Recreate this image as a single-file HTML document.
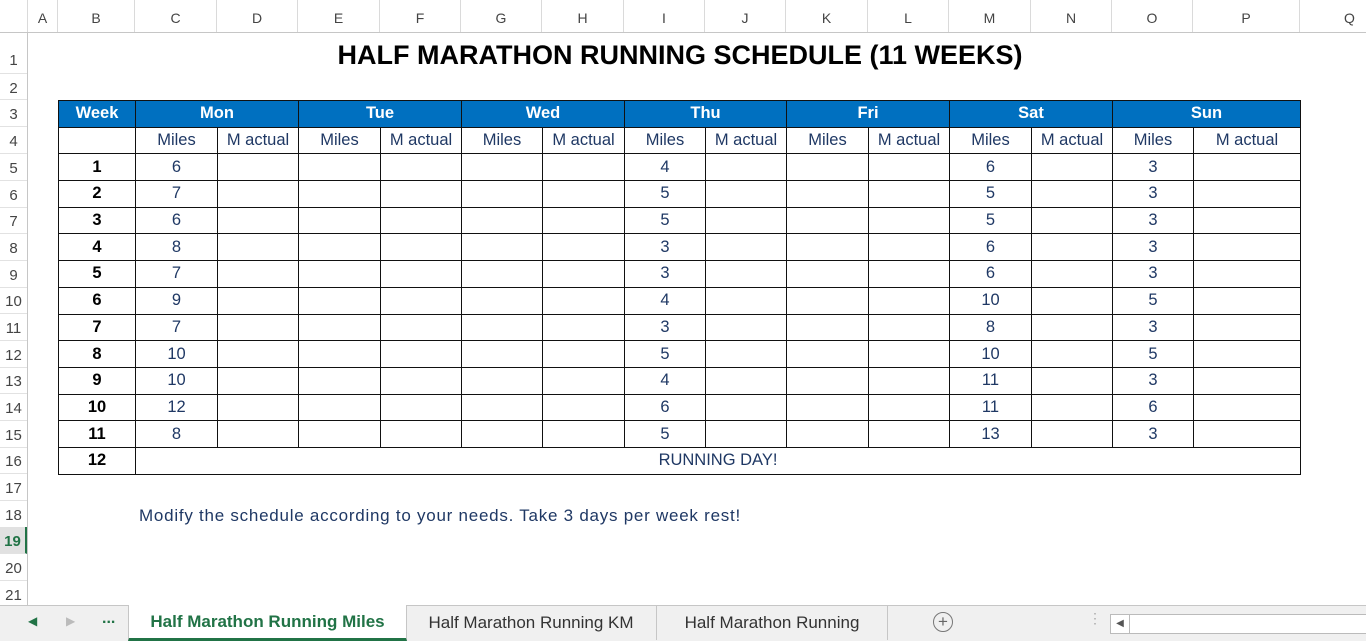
<!DOCTYPE html>
<html><head><meta charset="utf-8"><style>
body{margin:0;width:1366px;height:640px;overflow:hidden;background:#fff;font-family:"Liberation Sans",sans-serif;position:relative}
.ch{position:absolute;top:0;height:32px;border-bottom:1px solid #c6c6c6;background:#fff;width:1366px}
.ch div{position:absolute;top:0;height:32px;line-height:36px;text-align:center;font-size:14px;color:#444;border-right:1px solid #dadada;box-sizing:border-box}
.rh{position:absolute;left:0;width:27px;border-right:1px solid #c6c6c6;top:33px;height:572px}
.rh div{position:absolute;left:0;width:27px;font-size:15px;color:#444;text-align:center;border-bottom:1px solid #e2e2e2;box-sizing:border-box}
table{position:absolute;left:58px;top:100px;border-collapse:collapse;table-layout:fixed}
td{border:1.5px solid #111;height:25.7px;padding:0;text-align:center;font-size:16.5px;color:#1f3864;font-family:"Liberation Sans",sans-serif;overflow:hidden;white-space:nowrap}
tr.h td{background:#0070c0;color:#fff;font-weight:bold;border-color:#111}
td.w{font-weight:bold;color:#000}
.tabs{position:absolute;left:0;top:605px;width:1366px;height:35px;background:#f0f0f0;border-top:1px solid #c6c6c6}
</style></head><body>
<div class="ch">
<div style="left:0;width:28px"></div>
<div style="left:28px;width:30px">A</div>
<div style="left:58px;width:77px">B</div>
<div style="left:135px;width:82px">C</div>
<div style="left:217px;width:81px">D</div>
<div style="left:298px;width:82px">E</div>
<div style="left:380px;width:81px">F</div>
<div style="left:461px;width:81px">G</div>
<div style="left:542px;width:82px">H</div>
<div style="left:624px;width:81px">I</div>
<div style="left:705px;width:81px">J</div>
<div style="left:786px;width:82px">K</div>
<div style="left:868px;width:81px">L</div>
<div style="left:949px;width:82px">M</div>
<div style="left:1031px;width:81px">N</div>
<div style="left:1112px;width:81px">O</div>
<div style="left:1193px;width:107px">P</div>
<div style="left:1300px;width:100px">Q</div>
</div>
<div class="rh">
<div style="top:0;height:41px;line-height:56px">1</div>
<div style="top:41px;height:26px;line-height:30px">2</div>
<div style="top:67px;height:27px;line-height:30px">3</div>
<div style="top:94px;height:27px;line-height:30px">4</div>
<div style="top:121px;height:27px;line-height:30px">5</div>
<div style="top:148px;height:27px;line-height:30px">6</div>
<div style="top:174px;height:27px;line-height:30px">7</div>
<div style="top:201px;height:27px;line-height:30px">8</div>
<div style="top:228px;height:27px;line-height:30px">9</div>
<div style="top:254px;height:27px;line-height:30px">10</div>
<div style="top:281px;height:27px;line-height:30px">11</div>
<div style="top:308px;height:27px;line-height:30px">12</div>
<div style="top:334px;height:27px;line-height:30px">13</div>
<div style="top:361px;height:27px;line-height:30px">14</div>
<div style="top:388px;height:27px;line-height:30px">15</div>
<div style="top:414px;height:27px;line-height:30px">16</div>
<div style="top:441px;height:27px;line-height:30px">17</div>
<div style="top:468px;height:27px;line-height:30px">18</div>
<div style="top:494px;height:27px;line-height:30px;background:#e1e1e1;color:#217346;font-weight:bold;border-right:2px solid #217346">19</div>
<div style="top:521px;height:27px;line-height:30px">20</div>
<div style="top:548px;height:27px;line-height:30px">21</div>
</div>
<div style="position:absolute;left:200px;width:960px;top:40px;text-align:center;font-size:27px;font-weight:bold;color:#000">HALF MARATHON RUNNING SCHEDULE (11 WEEKS)</div>
<table>
<colgroup><col style="width:77px"><col style="width:82px"><col style="width:81px"><col style="width:82px"><col style="width:81px"><col style="width:81px"><col style="width:82px"><col style="width:81px"><col style="width:81px"><col style="width:82px"><col style="width:81px"><col style="width:82px"><col style="width:81px"><col style="width:81px"><col style="width:107px"></colgroup>
<tr class="h"><td>Week</td><td colspan="2">Mon</td><td colspan="2">Tue</td><td colspan="2">Wed</td><td colspan="2">Thu</td><td colspan="2">Fri</td><td colspan="2">Sat</td><td colspan="2">Sun</td></tr>
<tr><td></td><td>Miles</td><td>M actual</td><td>Miles</td><td>M actual</td><td>Miles</td><td>M actual</td><td>Miles</td><td>M actual</td><td>Miles</td><td>M actual</td><td>Miles</td><td>M actual</td><td>Miles</td><td>M actual</td></tr>
<tr><td class="w">1</td><td>6</td><td></td><td></td><td></td><td></td><td></td><td>4</td><td></td><td></td><td></td><td>6</td><td></td><td>3</td><td></td></tr>
<tr><td class="w">2</td><td>7</td><td></td><td></td><td></td><td></td><td></td><td>5</td><td></td><td></td><td></td><td>5</td><td></td><td>3</td><td></td></tr>
<tr><td class="w">3</td><td>6</td><td></td><td></td><td></td><td></td><td></td><td>5</td><td></td><td></td><td></td><td>5</td><td></td><td>3</td><td></td></tr>
<tr><td class="w">4</td><td>8</td><td></td><td></td><td></td><td></td><td></td><td>3</td><td></td><td></td><td></td><td>6</td><td></td><td>3</td><td></td></tr>
<tr><td class="w">5</td><td>7</td><td></td><td></td><td></td><td></td><td></td><td>3</td><td></td><td></td><td></td><td>6</td><td></td><td>3</td><td></td></tr>
<tr><td class="w">6</td><td>9</td><td></td><td></td><td></td><td></td><td></td><td>4</td><td></td><td></td><td></td><td>10</td><td></td><td>5</td><td></td></tr>
<tr><td class="w">7</td><td>7</td><td></td><td></td><td></td><td></td><td></td><td>3</td><td></td><td></td><td></td><td>8</td><td></td><td>3</td><td></td></tr>
<tr><td class="w">8</td><td>10</td><td></td><td></td><td></td><td></td><td></td><td>5</td><td></td><td></td><td></td><td>10</td><td></td><td>5</td><td></td></tr>
<tr><td class="w">9</td><td>10</td><td></td><td></td><td></td><td></td><td></td><td>4</td><td></td><td></td><td></td><td>11</td><td></td><td>3</td><td></td></tr>
<tr><td class="w">10</td><td>12</td><td></td><td></td><td></td><td></td><td></td><td>6</td><td></td><td></td><td></td><td>11</td><td></td><td>6</td><td></td></tr>
<tr><td class="w">11</td><td>8</td><td></td><td></td><td></td><td></td><td></td><td>5</td><td></td><td></td><td></td><td>13</td><td></td><td>3</td><td></td></tr>
<tr><td class="w">12</td><td colspan="14">RUNNING DAY!</td></tr>
</table>
<div style="position:absolute;left:139px;top:506px;font-size:17px;letter-spacing:0.75px;color:#1f3864">Modify the schedule according to your needs. Take 3 days per week rest!</div>
<div class="tabs">
<div style="position:absolute;left:28px;top:8px;font-size:12px;color:#217346">◀</div>
<div style="position:absolute;left:66px;top:8px;font-size:12px;color:#bbb">▶</div>
<div style="position:absolute;left:102px;top:4px;font-size:16px;font-weight:bold;color:#217346">...</div>
<div style="position:absolute;left:128px;top:-1px;width:277px;height:33px;background:#fff;border-bottom:3px solid #217346;border-left:1px solid #c6c6c6;border-right:1px solid #c6c6c6;text-align:center;line-height:34px;font-size:17px;font-weight:bold;color:#217346">Half Marathon Running Miles</div>
<div style="position:absolute;left:406px;top:0;width:250px;height:34px;line-height:34px;text-align:center;font-size:17px;color:#333;border-right:1px solid #c6c6c6">Half Marathon Running KM</div>
<div style="position:absolute;left:657px;top:0;width:230px;height:34px;line-height:34px;text-align:center;font-size:17px;color:#333;border-right:1px solid #c6c6c6">Half Marathon Running</div>
<div style="position:absolute;left:933px;top:6px;width:18px;height:18px;border:1.5px solid #777;border-radius:50%;text-align:center;line-height:18px;font-size:17px;color:#666">+</div>
<div style="position:absolute;left:1088px;top:4px;color:#aaa;font-size:14px">⋮</div>
<div style="position:absolute;left:1110px;top:8px;width:260px;height:18px;border:1px solid #bbb;background:#fff"><div style="width:18px;height:18px;border-right:1px solid #bbb;font-size:10px;text-align:center;line-height:18px;color:#555">◀</div></div>
</div>
</body></html>
